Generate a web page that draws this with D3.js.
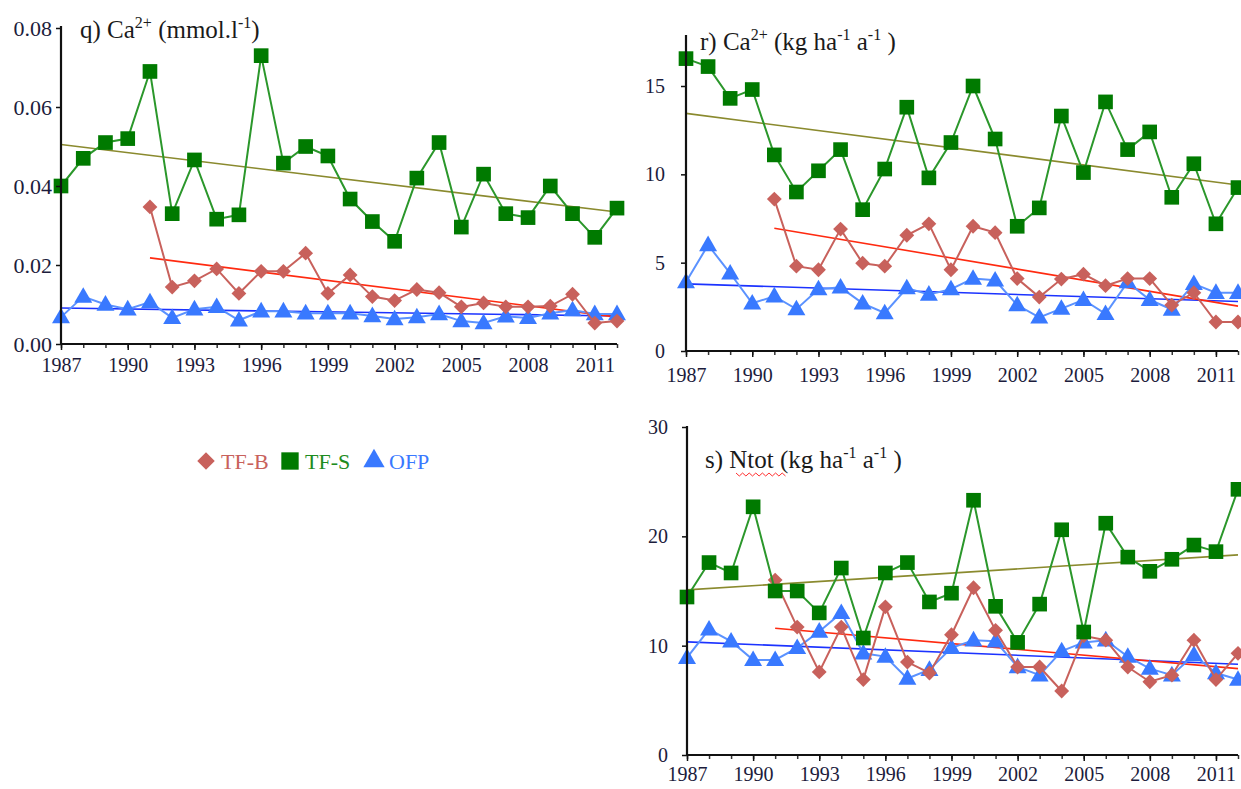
<!DOCTYPE html>
<html>
<head>
<meta charset="utf-8">
<script src="https://cdn.jsdelivr.net/npm/d3@7"></script>
<style>
  body { margin: 0; background: #fff; }
  svg { display: block; font-family: "Liberation Serif", "Times New Roman", serif; }
  .title { fill: #1a1a1a; font-size: 25px; font-family: "Liberation Serif", "Times New Roman", serif; }
</style>
</head>
<body>
<svg id="chart" width="1241" height="789"></svg>
<script>
//Years shared by every panel.
const years = d3.range(1987, 2013);
const xTicks = [1987, 1990, 1993, 1996, 1999, 2002, 2005, 2008, 2011];

//q) Ca2+ concentration (mmol/l). TF-B starts in 1991.
const qTFS = [0.040, 0.047, 0.051, 0.052, 0.069, 0.033, 0.0466, 0.0316, 0.0327, 0.073, 0.0458, 0.050, 0.0476,
  0.0367, 0.031, 0.026, 0.042, 0.051, 0.0296, 0.043, 0.033, 0.032, 0.040, 0.033, 0.027, 0.0344];
const qTFB = [null, null, null, null, 0.0347, 0.0144, 0.016, 0.019, 0.0128, 0.0184, 0.0184, 0.023, 0.0128,
  0.0175, 0.012, 0.011, 0.0138, 0.013, 0.0094, 0.0104, 0.0094, 0.0094, 0.0096, 0.0126, 0.0053, 0.0058];
const qOFP = [0.0068, 0.012, 0.010, 0.0088, 0.0106, 0.0066, 0.0088, 0.0094, 0.006, 0.0083, 0.0083, 0.0078, 0.0078,
  0.0078, 0.0071, 0.0063, 0.0068, 0.0076, 0.0058, 0.0053, 0.007, 0.0066, 0.0078, 0.0086, 0.0076, 0.0076];
const qTrendTFS = [0.0505, 0.0334];
const qTrendTFB = [0.0218, 0.0068];
const qTrendOFP = [0.0091, 0.0071];
const qYTicks = [0, 0.02, 0.04, 0.06, 0.08];

//r) Ca2+ flux (kg/ha/a).
const rTFS = [16.55, 16.1, 14.3, 14.8, 11.1, 9.0, 10.2, 11.4, 8.0, 10.3, 13.8, 9.8, 11.8,
  15.0, 12.0, 7.06, 8.1, 13.3, 10.1, 14.1, 11.4, 12.4, 8.7, 10.6, 7.2, 9.25];
const rTFB = [null, null, null, null, 8.6, 4.8, 4.6, 6.9, 4.97, 4.8, 6.55, 7.2, 4.6,
  7.06, 6.7, 4.1, 3.05, 4.07, 4.35, 3.7, 4.1, 4.1, 2.6, 3.3, 1.64, 1.64];
const rOFP = [3.9, 6.0, 4.4, 2.7, 3.1, 2.37, 3.5, 3.6, 2.7, 2.15, 3.56, 3.2, 3.5,
  4.1, 4.0, 2.6, 1.9, 2.4, 2.9, 2.1, 3.9, 2.9, 2.35, 3.8, 3.3, 3.3];
const rTrendTFS = [13.45, 9.4];
const rTrendTFB = [6.95, 2.54];
const rTrendOFP = [3.8, 2.8];
const rYTicks = [0, 5, 10, 15];

//s) Ntot flux (kg/ha/a).
const sTFS = [14.45, 17.6, 16.65, 22.7, 15.0, 15.0, 13.0, 17.1, 10.7, 16.65, 17.6, 14.0, 14.8,
  23.3, 13.6, 10.3, 13.8, 20.6, 11.25, 21.2, 18.1, 16.8, 17.9, 19.2, 18.6, 24.3];
const sTFB = [null, null, null, null, 16.0, 11.7, 7.6, 11.7, 6.9, 13.55, 8.5, 7.5, 11.0,
  15.3, 11.4, 8.05, 8.05, 5.85, 10.9, 10.5, 8.05, 6.7, 7.3, 10.5, 6.9, 9.3];
const sOFP = [8.9, 11.5, 10.4, 8.7, 8.7, 9.8, 11.3, 13.0, 9.3, 9.0, 7.0, 7.8, 9.8,
  10.5, 10.4, 8.05, 7.3, 9.5, 10.3, 10.5, 9.0, 7.9, 7.3, 9.15, 7.5, 6.9];
const sTrendTFS = [15.1, 18.3];
const sTrendTFB = [11.6, 7.9];
const sTrendOFP = [10.35, 8.3];
const sYTicks = [0, 10, 20, 30];

//Legend entries.
const legendNames = ['TF-B', 'TF-S', 'OFP'];

const serif = '"Liberation Serif", "Times New Roman", serif';
const style = {
  'TF-B': {line: '#c8615c', fill: '#c8615c', text: '#c8615c', symbol: d3.symbolSquare, rot: 45, size: 110, trend: '#ff2a10'},
  'TF-S': {line: '#2b972b', fill: '#007a00', text: '#1e8c1e', symbol: d3.symbolSquare, rot: 0, size: 215, trend: '#8a8a2e'},
  'OFP':  {line: '#5b92ff', fill: '#3979ff', text: '#3979ff', symbol: d3.symbolTriangle, rot: 0, size: 140, trend: '#1c33ff'}
};

const svg = d3.select('#chart');

//Serif tick labels, as in the original figure.
function styleTicks(axisG, size) {
  axisG.attr('font-family', serif).attr('font-size', size);
  axisG.selectAll('.tick text').style('font-family', serif).style('font-size', size + 'px').attr('fill', '#1c1c3c');
}

function renderPanel(p) {
  const x = d3.scaleLinear().domain([1987, 2012]).range([p.left, p.right]);
  const y = d3.scaleLinear().domain([0, p.yMax]).range([p.bottom, p.top]);
  const g = svg.append('g');

  //Trend lines sit under the series.
  const trendLine = d3.line().x(d => x(d[0])).y(d => y(d[1]));
  p.series.forEach(s => {
    const y0 = s.name === 'TF-B' ? 1991 : 1987;
    g.append('path')
      .attr('d', trendLine([[y0, s.trend[0]], [2012, s.trend[1]]]))
      .attr('fill', 'none')
      .attr('stroke', style[s.name].trend)
      .attr('stroke-width', 1.6);
  });

  //Series, drawn OFP first, TF-S last.
  const line = d3.line().defined(d => d[1] !== null).x(d => x(d[0])).y(d => y(d[1]));
  p.series.forEach(s => {
    const st = style[s.name];
    const pts = years.map((yr, i) => [yr, s.values[i]]);
    g.append('path')
      .attr('d', line(pts))
      .attr('fill', 'none')
      .attr('stroke', st.line)
      .attr('stroke-width', 2);
    g.selectAll(null)
      .data(pts.filter(d => d[1] !== null))
      .join('path')
      .attr('d', d3.symbol().type(st.symbol).size(st.size))
      .attr('transform', d => `translate(${x(d[0])},${y(d[1]) + (st.symbol === d3.symbolTriangle ? 1 : 0)}) rotate(${st.rot})`)
      .attr('fill', st.fill);
  });

  //Y axis.
  const yAxis = g.append('g')
    .attr('transform', `translate(${p.left},0)`)
    .call(d3.axisLeft(y).tickValues(p.yTicks).tickFormat(p.yFormat).tickSize(5).tickPadding(p.yPad));
  yAxis.select('.domain').remove();
  yAxis.selectAll('.tick line').attr('stroke', '#111').attr('stroke-width', 1.5);
  styleTicks(yAxis, p.yFont);
  g.append('line')
    .attr('x1', p.left).attr('x2', p.left)
    .attr('y1', p.bottom).attr('y2', p.axisTop)
    .attr('stroke', '#111').attr('stroke-width', 2.2);

  //X axis: minor tick each year, labels every three years.
  const xMinor = g.append('g')
    .attr('transform', `translate(0,${p.bottom})`)
    .call(d3.axisBottom(x).tickValues(years).tickFormat('').tickSize(4));
  xMinor.select('.domain').remove();
  xMinor.selectAll('.tick line').attr('stroke', '#333').attr('stroke-width', 1.5);
  const xAxis = g.append('g')
    .attr('transform', `translate(0,${p.bottom})`)
    .call(d3.axisBottom(x).tickValues(xTicks).tickFormat(d3.format('d')).tickSize(6).tickPadding(p.xPad));
  xAxis.select('.domain').remove();
  xAxis.selectAll('.tick line').attr('stroke', '#111').attr('stroke-width', 1.5);
  styleTicks(xAxis, 20);
  g.append('line')
    .attr('x1', p.left).attr('x2', p.right)
    .attr('y1', p.bottom).attr('y2', p.bottom)
    .attr('stroke', '#111').attr('stroke-width', 2.2);

  //Panel title; parts flagged true are superscripts.
  const t = g.append('text').attr('class', 'title').attr('x', p.titleX).attr('y', p.titleY);
  let up = false;
  p.title.forEach(part => {
    const ts = t.append('tspan').text(part[0]);
    if (part[1]) { ts.attr('font-size', '16px').attr('dy', -10); up = true; }
    else if (up) { ts.attr('dy', 10); up = false; }
  });
  return t;
}

renderPanel({
  left: 61, right: 617, top: 28, bottom: 344, axisTop: 26, yMax: 0.08,
  yTicks: qYTicks, yFormat: d3.format('.2f'), yPad: 4, xPad: 8, yFont: 22,
  titleX: 80, titleY: 38,
  title: [['q) Ca'], ['2+', true], [' (mmol.l'], ['-1', true], [')']],
  series: [
    {name: 'OFP', values: qOFP, trend: qTrendOFP},
    {name: 'TF-B', values: qTFB, trend: qTrendTFB},
    {name: 'TF-S', values: qTFS, trend: qTrendTFS}
  ]
});

renderPanel({
  left: 686, right: 1238, top: 86, bottom: 351, axisTop: 35, yMax: 15,
  yTicks: rYTicks, yFormat: d3.format('d'), yPad: 16, xPad: 11, yFont: 20,
  titleX: 700, titleY: 50,
  title: [['r) Ca'], ['2+', true], [' (kg ha'], ['-1', true], [' a'], ['-1', true], ['  )']],
  series: [
    {name: 'OFP', values: rOFP, trend: rTrendOFP},
    {name: 'TF-B', values: rTFB, trend: rTrendTFB},
    {name: 'TF-S', values: rTFS, trend: rTrendTFS}
  ]
});

renderPanel({
  left: 687, right: 1238, top: 427, bottom: 755, axisTop: 426, yMax: 30,
  yTicks: sYTicks, yFormat: d3.format('d'), yPad: 14, xPad: 6, yFont: 20,
  titleX: 705, titleY: 468,
  title: [['s) Ntot (kg ha'], ['-1', true], [' a'], ['-1', true], ['  )']],
  series: [
    {name: 'OFP', values: sOFP, trend: sTrendOFP},
    {name: 'TF-B', values: sTFB, trend: sTrendTFB},
    {name: 'TF-S', values: sTFS, trend: sTrendTFS}
  ]
});

//Spell-check squiggle under "Ntot".
const wave = d3.range(0, 16).map(i => [736 + i * 3.3, 474 + (i % 2 ? 2 : -1)]);
svg.append('path')
  .attr('d', d3.line()(wave))
  .attr('fill', 'none')
  .attr('stroke', '#ff3030')
  .attr('stroke-width', 1);

//Legend.
const legend = svg.append('g').attr('transform', 'translate(206,461)');
const legendX = d3.scalePoint().domain(legendNames).range([0, 168]);
legendNames.forEach(name => {
  const st = style[name];
  const lg = legend.append('g').attr('transform', `translate(${legendX(name)},0)`);
  lg.append('path')
    .attr('d', d3.symbol().type(st.symbol).size(st.size * 1.4))
    .attr('transform', `rotate(${st.rot})`)
    .attr('fill', st.fill);
  lg.append('text')
    .attr('x', 15).attr('y', 8)
    .attr('font-family', serif)
    .attr('font-size', '22px')
    .attr('fill', st.text)
    .text(name);
});
</script>
</body>
</html>
